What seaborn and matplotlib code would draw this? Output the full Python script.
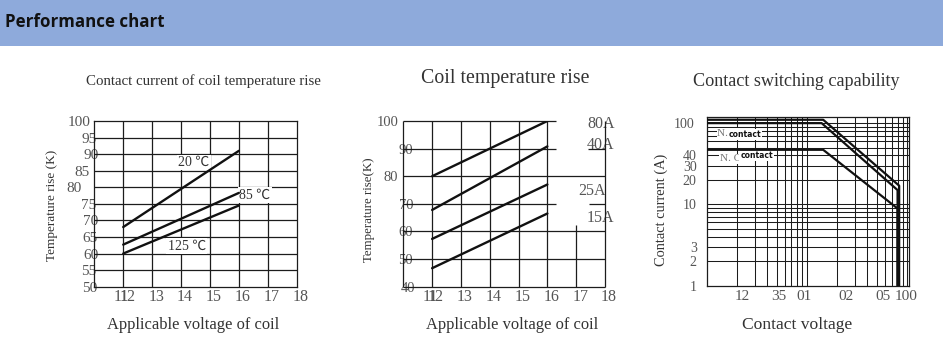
import matplotlib
matplotlib.use("Agg")
import matplotlib.pyplot as plt
from matplotlib.patches import Rectangle
from matplotlib.ticker import NullLocator
from matplotlib.transforms import ScaledTranslation
import pandas as pd
import seaborn as sns

# Contact current of coil temperature rise (one curve per ambient temperature)
coil_voltage = [12, 16]
rise_20c = [68.0, 91.0]
rise_85c = [62.7, 78.3]
rise_125c = [60.0, 74.5]
ambient_names = ["20 ℃", "85 ℃", "125 ℃"]

# Coil temperature rise (one curve per load current)
rise_80a = [80.0, 100.0]
rise_40a = [67.8, 90.8]
rise_25a = [57.3, 77.0]
rise_15a = [46.7, 66.5]
load_names = ["80A", "40A", "25A", "15A"]

# Contact switching capability (N.O double outline and N.C outline)
no_upper_voltage = [1, 14.5, 83, 83]
no_upper_current = [110, 110, 17, 1]
no_lower_voltage = [1, 14, 80, 80]
no_lower_current = [100, 100, 15, 1]
nc_voltage = [1, 14.5, 80, 80]
nc_current = [47, 47, 8.9, 1]

# Axis ticks
rise_ticks_a = [50, 55, 60, 65, 70, 75, 80, 85, 90, 95, 100]
rise_ticks_b = [40, 50, 60, 70, 80, 90, 100]
voltage_tick_labels = ["11", "12", "13", "14", "15", "16", "17", "18"]
current_ticks = [1, 2, 3, 10, 20, 30, 40, 100]
switch_voltage_labels = ["12", "35", "01", "02", "05", "100"]

sns.set_theme(style="white")
plt.rcParams["font.family"] = ["Liberation Serif", "Noto Sans CJK SC", "DejaVu Sans"]
plt.rcParams["axes.unicode_minus"] = False

W, H = 943, 337
fig = plt.figure(figsize=(W / 100, H / 100), dpi=100)

GRID = "#1c1c1c"
LINE = "#111111"
TICK = "#555555"
TEXT = "#333333"


def box(left, top, right, bottom):
    return [left / W, 1 - bottom / H, (right - left) / W, (bottom - top) / H]


def label_at(x, y, s, size, **kw):
    kw.setdefault("ha", "center")
    kw.setdefault("va", "center")
    kw.setdefault("color", TEXT)
    fig.text(x / W, 1 - y / H, s, fontsize=size, **kw)


def nudge(labels, dx_px):
    if not isinstance(dx_px, (list, tuple)):
        dx_px = [dx_px] * len(labels)
    for lab, dx in zip(labels, dx_px):
        lab.set_transform(lab.get_transform()
                          + ScaledTranslation(dx / 100, 0, fig.dpi_scale_trans))


# ---- header band ----
fig.patches.append(Rectangle((0, 1 - 46 / H), 1, 46 / H, transform=fig.transFigure,
                             facecolor="#8EAADB", edgecolor="none", zorder=0))
label_at(5, 22, "Performance chart", 12.2, ha="left", fontweight="bold",
         family=["Open Sans", "DejaVu Sans"], color="#111111")

# ---- panel 1: contact current of coil temperature rise ----
ax1 = fig.add_axes(box(94.3, 121, 296.7, 286.7))
df1 = pd.DataFrame({
    "voltage": coil_voltage * 3,
    "rise": rise_20c + rise_85c + rise_125c,
    "ambient": [n for n in ambient_names for _ in coil_voltage],
})
sns.lineplot(data=df1, x="voltage", y="rise", hue="ambient", palette=[LINE] * 3,
             legend=False, estimator=None, sort=False, lw=1.7, ax=ax1, zorder=3)
ax1.set(xlim=(11, 18), ylim=(50, 100), xlabel="", ylabel="")
ax1.vlines(range(12, 18), 50, 100, color=GRID, lw=0.9, zorder=1)
ax1.hlines(rise_ticks_a[1:-1], 11, 18, color=GRID, lw=0.9, zorder=1)
for sp in ax1.spines.values():
    sp.set_visible(True)
    sp.set_color(GRID)
    sp.set_linewidth(0.9)
ax1.set_xticks([11.8, 12, 13, 14, 15, 16, 17, 18], labels=voltage_tick_labels)
ax1.set_yticks(rise_ticks_a, labels=[str(v) for v in rise_ticks_a])
ax1.tick_params(axis="x", length=0, pad=1.5, labelsize=11.5, labelcolor=TICK)
ax1.tick_params(axis="y", length=0, pad=2.9, labelsize=11, labelcolor=TICK)
nudge(ax1.get_xticklabels(), 4)
nudge(ax1.get_yticklabels(), [7, 6.4, 8.7, 7.7, 7.7, 6.4, -8.6, -1, 8, 6.4, 0])
for name, (x, y) in zip(ambient_names, [(14.45, 87.5), (16.55, 77.6), (14.2, 62.2)]):
    ax1.text(x, y, name, fontsize=10, color=TEXT, ha="center", va="center", zorder=2,
             bbox=dict(facecolor="white", edgecolor="none", pad=1.0))

label_at(203, 81, "Contact current of coil temperature rise", 10.7)
label_at(193, 325, "Applicable voltage of coil", 11.9)
label_at(52.5, 205, "Temperature rise (K)", 9.5, rotation=90)

# ---- panel 2: coil temperature rise ----
ax2 = fig.add_axes(box(403.3, 121, 605, 286.7))
df2 = pd.DataFrame({
    "voltage": coil_voltage * 4,
    "rise": rise_80a + rise_40a + rise_25a + rise_15a,
    "load": [n for n in load_names for _ in coil_voltage],
})
sns.lineplot(data=df2, x="voltage", y="rise", hue="load", palette=[LINE] * 4,
             legend=False, estimator=None, sort=False, lw=1.7, ax=ax2, zorder=3)
ax2.set(xlim=(11, 18), ylim=(40, 100), xlabel="", ylabel="")
for sp in ax2.spines.values():
    sp.set_visible(False)
grid_kw = dict(color=GRID, lw=0.9, zorder=1, clip_on=False)
for y, x0, x1 in [(100, 11, 16.3), (90, 11, 16.3), (90, 17.4, 18), (80, 11, 18),
                  (70, 11, 16.3), (70, 17.45, 18), (60, 11, 18), (50, 11, 18),
                  (40, 11, 18)]:
    ax2.hlines(y, x0, x1, **grid_kw)
for x, y0, y1 in [(11, 40, 100), (12, 40, 100), (13, 40, 100), (14, 40, 100),
                  (15, 40, 100), (16, 40, 100), (17, 40, 62.4), (18, 40, 100)]:
    ax2.vlines(x, y0, y1, **grid_kw)
ax2.set_xticks([11.8, 12, 13, 14, 15, 16, 17, 18], labels=voltage_tick_labels)
ax2.set_yticks(rise_ticks_b, labels=[str(v) for v in rise_ticks_b])
ax2.tick_params(axis="x", length=0, pad=1.5, labelsize=11.5, labelcolor=TICK)
ax2.tick_params(axis="y", length=0, pad=3.6, labelsize=10.5, labelcolor=TICK)
nudge(ax2.get_xticklabels(), 4)
nudge(ax2.get_yticklabels(), [16.7, 14.7, 14.7, 14.7, 0, 14.7, 0])
for name, (x, y) in zip(load_names, [(17.85, 98.8), (17.83, 91.3), (17.55, 74.5), (17.85, 64.8)]):
    ax2.text(x, y, name, fontsize=11.5, color=TICK, ha="center", va="center",
             clip_on=False, zorder=0)

label_at(505, 79, "Coil temperature rise", 14.3)
label_at(512, 325, "Applicable voltage of coil", 11.9)
label_at(369, 210, "Temperature rise(K)", 9.3, rotation=90)

# ---- panel 3: contact switching capability ----
ax3 = fig.add_axes(box(706.7, 116.7, 909, 285.7))
df3 = pd.DataFrame({
    "voltage": no_upper_voltage + no_lower_voltage + nc_voltage,
    "current": no_upper_current + no_lower_current + nc_current,
    "contact": ["N.O a"] * 4 + ["N.O b"] * 4 + ["N.C"] * 4,
})
sns.lineplot(data=df3, x="voltage", y="current", hue="contact", palette=[LINE] * 3,
             legend=False, estimator=None, sort=False, lw=1.6, ax=ax3, zorder=3)
ax3.set_xscale("log")
ax3.set_yscale("log")
ax3.set(xlim=(1, 104), ylim=(1, 120), xlabel="", ylabel="")
log_grid = [2, 3, 4, 5, 6, 7, 8, 9, 10, 20, 30, 40, 50, 60, 70, 80, 90, 100]
ax3.vlines(log_grid, 1, 120, color=GRID, lw=0.75, zorder=1)
ax3.hlines(log_grid, 1, 104, color=GRID, lw=0.75, zorder=1)
for sp in ax3.spines.values():
    sp.set_visible(True)
    sp.set_color(GRID)
    sp.set_linewidth(0.9)
ax3.set_xticks([2.25, 5.2, 9.4, 24.3, 57.5, 97], labels=switch_voltage_labels)
ax3.set_yticks(current_ticks, labels=[str(v) for v in current_ticks])
ax3.xaxis.set_minor_locator(NullLocator())
ax3.yaxis.set_minor_locator(NullLocator())
ax3.tick_params(axis="x", length=0, pad=3, labelsize=11, labelcolor=TICK)
ax3.tick_params(axis="y", length=0, pad=7.2, labelsize=10, labelcolor=TICK)
nudge(ax3.get_yticklabels(), [0, 0, 0, 0, 0, 0, 0, -2])

wbox = dict(facecolor="white", edgecolor="none", pad=0.6)
ax3.text(1.64, 74, "N. O", fontsize=8, color="#777777", ha="center", va="center",
         zorder=2, bbox=wbox)
ax3.text(2.42, 73, "contact", fontsize=5.5, fontweight="bold", color="#111111",
         family=["DejaVu Sans"], ha="center", va="center", zorder=2, bbox=wbox)
ax3.text(1.72, 36.3, "N. C", fontsize=8, color="#777777", ha="center", va="center",
         zorder=2, bbox=wbox)
ax3.text(3.14, 39.7, "contact", fontsize=5.5, fontweight="bold", color="#111111",
         family=["DejaVu Sans"], ha="center", va="center", zorder=2, bbox=wbox)

label_at(796, 82, "Contact switching capability", 13.1)
label_at(797, 325, "Contact voltage", 12.6)
label_at(661.7, 210, "Contact current (A)", 10.4, rotation=90)

fig.savefig("out.png", dpi=100)
